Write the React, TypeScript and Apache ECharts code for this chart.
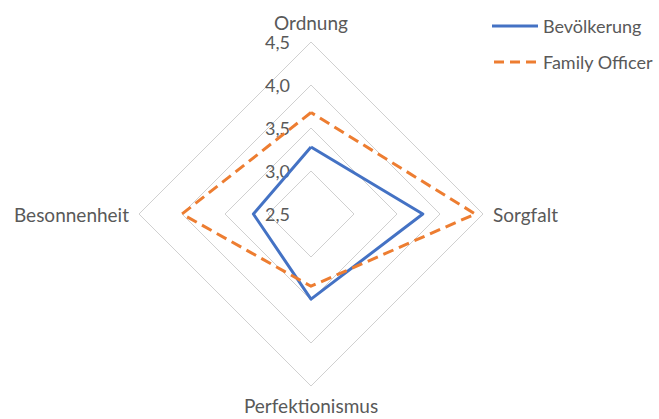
import React, { useEffect, useRef } from "react";
import * as echarts from "echarts";

const indicatorNames = ["Ordnung", "Besonnenheit", "Perfektionismus", "Sorgfalt"];
const bevoelkerung = [3.28, 3.17, 3.49, 3.8];
const familyOfficer = [3.68, 4.0, 3.34, 4.41];
const seriesNames = ["Bevölkerung", "Family Officer"];
const axisMin = 2.5;
const axisMax = 4.5;

const FONT = "Lato, 'Noto Sans', sans-serif";
const TXT = "#595959";

export default function App() {
  const ref = useRef<HTMLDivElement>(null);
  useEffect(() => {
    if (!ref.current) return;
    const chart = echarts.init(ref.current, undefined, { renderer: "svg" });
    chart.setOption({
      animation: false,
      backgroundColor: "#ffffff",
      textStyle: { fontFamily: FONT },
      legend: {
        orient: "vertical",
        left: 487,
        top: 12,
        itemWidth: 46,
        itemHeight: 3,
        itemGap: 18,
        textStyle: { color: TXT, fontSize: 18, fontFamily: FONT },
        data: [
          { name: seriesNames[0], icon: "rect" },
          {
            name: seriesNames[1],
            icon: "path://M0,0h10v3h-10z M16,0h10v3h-10z M32,0h10v3h-10z",
          },
        ],
      },
      radar: {
        center: [311, 214],
        radius: 172,
        startAngle: 90,
        shape: "polygon",
        splitNumber: 4,
        nameGap: 10,
        axisName: { color: TXT, fontSize: 19, fontFamily: FONT },
        axisLine: { show: false },
        axisTick: { show: false },
        splitArea: { show: false },
        splitLine: { lineStyle: { color: "#d0d0d0", width: 1 } },
        axisLabel: { show: false },
        indicator: indicatorNames.map((n, i) => ({
          name: n,
          min: axisMin,
          max: axisMax,
          ...(i === 0
            ? {
                axisLabel: {
                  show: true,
                  margin: 21,
                  color: TXT,
                  fontSize: 18,
                  fontFamily: FONT,
                  formatter: (v: number) => v.toFixed(1).replace(".", ","),
                },
              }
            : {}),
        })),
      },
      series: [
        {
          type: "radar",
          symbol: "none",
          data: [
            {
              name: seriesNames[0],
              value: bevoelkerung,
              lineStyle: { color: "#4472C4", width: 3 },
              itemStyle: { color: "#4472C4" },
            },
            {
              name: seriesNames[1],
              value: familyOfficer,
              lineStyle: { color: "#ED7D31", width: 3, type: [11, 6] },
              itemStyle: { color: "#ED7D31" },
            },
          ],
        },
      ],
    });
    return () => chart.dispose();
  }, []);
  return (
    <div
      ref={ref}
      style={{ position: "fixed", left: 0, top: 0, width: 659, height: 419 }}
    />
  );
}
